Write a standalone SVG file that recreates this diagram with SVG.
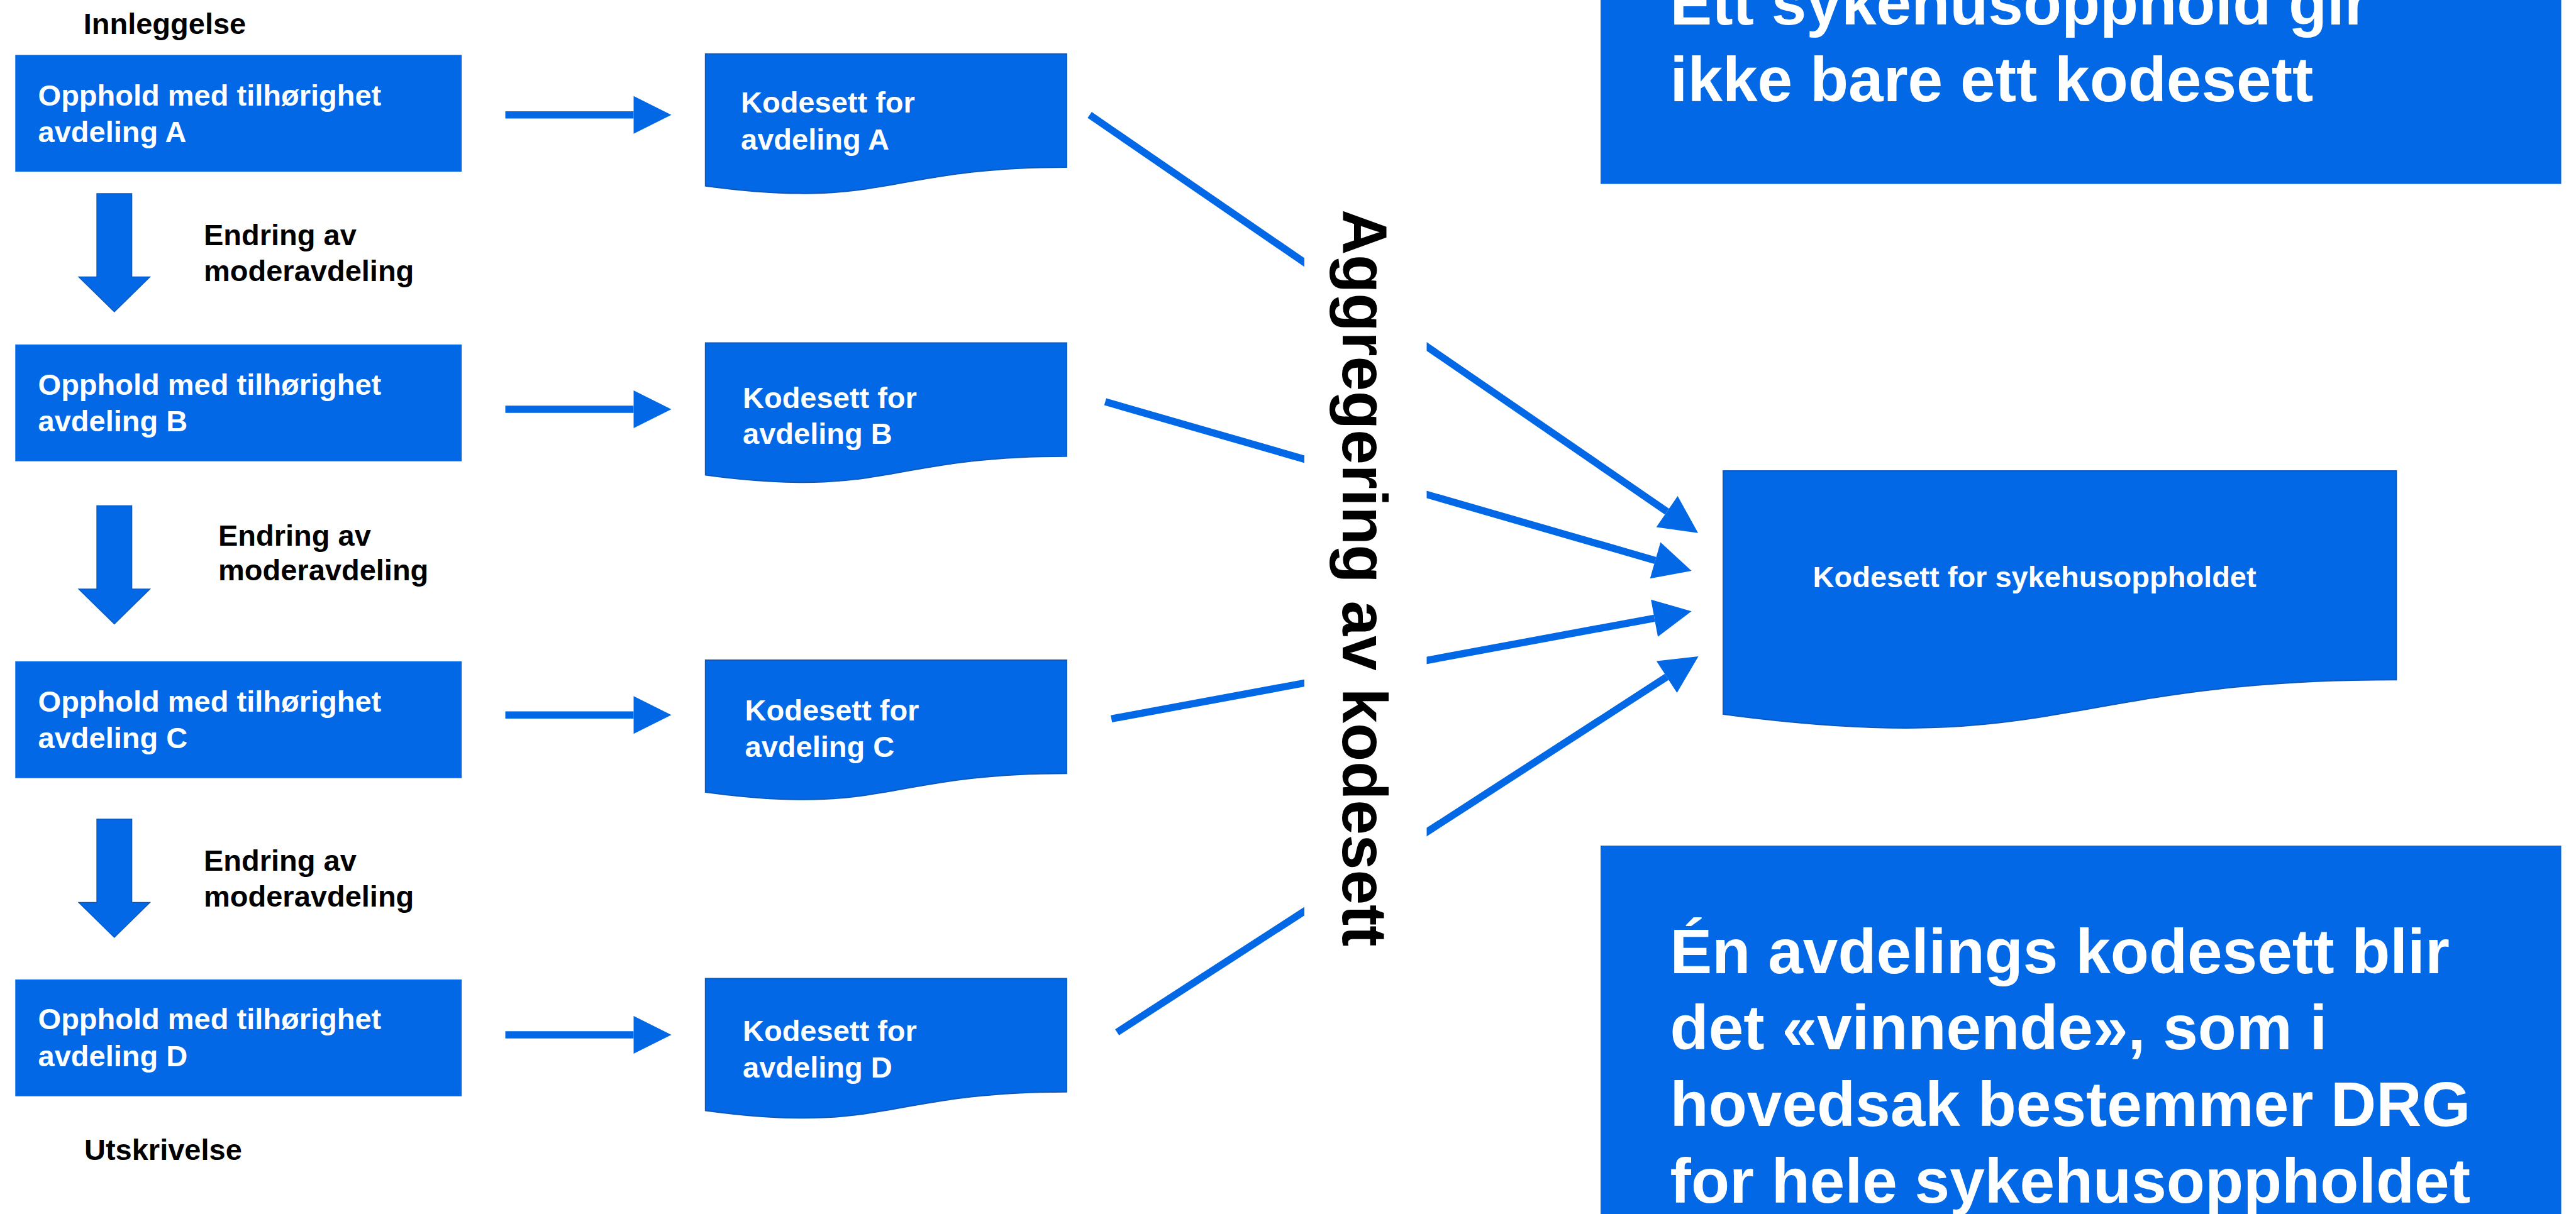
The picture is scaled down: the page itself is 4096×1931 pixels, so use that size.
<svg xmlns="http://www.w3.org/2000/svg" width="4096" height="1931" viewBox="0 0 4096 1931">
<defs>
<style>
.box{fill:#0368E6;}
.doc{fill:#0368E6;stroke:#0A58C0;stroke-width:2;}
.t{font-family:"Liberation Sans",Arial,sans-serif;font-weight:bold;font-size:47px;}
.w{fill:#FFFFFF;}
.k{fill:#000000;}
.big{font-family:"Liberation Sans",Arial,sans-serif;font-weight:bold;font-size:100px;}
.conn{stroke:#0368E6;stroke-width:11.5;fill:none;}
.darr{fill:#0368E6;stroke:#0A58C0;stroke-width:1.5;}
</style>
<marker id="ah" markerUnits="userSpaceOnUse" markerWidth="62" markerHeight="62" viewBox="0 -31 62 62" refX="0" refY="0" orient="auto" overflow="visible">
<path d="M0,-30 L60,0 L0,30 Z" fill="#0368E6"/>
</marker>
<path id="downArrow" d="M-27.75,0 H27.75 V132.5 H56.5 L0,188 L-56.5,132.5 H-27.75 Z"/>
<path id="docShape" d="M0,0 H574.1 V180.2 C287,180.2 287,248.9 0,209.9 Z"/>
</defs>
<rect width="4096" height="1931" fill="#FFFFFF"/>

<g id="connectors">
<line class="conn" x1="803.5" y1="182.8" x2="1007.5" y2="182.8" marker-end="url(#ah)"/>
<line class="conn" x1="803.5" y1="651" x2="1007.5" y2="651" marker-end="url(#ah)"/>
<line class="conn" x1="803.5" y1="1137.3" x2="1007.5" y2="1137.3" marker-end="url(#ah)"/>
<line class="conn" x1="803.5" y1="1646" x2="1007.5" y2="1646" marker-end="url(#ah)"/>
<line class="conn" x1="1732.6" y1="182.8" x2="2650.6" y2="813.7" marker-end="url(#ah)"/>
<line class="conn" x1="1757.4" y1="639" x2="2632" y2="891.4" marker-end="url(#ah)"/>
<line class="conn" x1="1767.2" y1="1143.3" x2="2630.6" y2="983.3" marker-end="url(#ah)"/>
<line class="conn" x1="1776.2" y1="1642" x2="2650.2" y2="1076.7" marker-end="url(#ah)"/>
<use href="#downArrow" class="darr" transform="translate(181.8,308)"/>
<use href="#downArrow" class="darr" transform="translate(181.8,804.5)"/>
<use href="#downArrow" class="darr" transform="translate(181.8,1303)"/>
</g>

<g id="label-innleggelse"><text class="t k" x="132.7" y="53.7">Innleggelse</text></g>
<g id="label-utskrivelse"><text class="t k" x="134" y="1844.7">Utskrivelse</text></g>

<g id="opphold-a">
<rect class="box" x="24.3" y="87.3" width="709.8" height="185.7"/>
<text class="t w" x="60.6" y="168">Opphold med tilhørighet</text>
<text class="t w" x="60.6" y="225.5">avdeling A</text>
</g>
<g id="opphold-b">
<rect class="box" x="24.3" y="548" width="709.8" height="185.7"/>
<text class="t w" x="60.6" y="628">Opphold med tilhørighet</text>
<text class="t w" x="60.6" y="685.5">avdeling B</text>
</g>
<g id="opphold-c">
<rect class="box" x="24.3" y="1052" width="709.8" height="185.7"/>
<text class="t w" x="60.6" y="1132">Opphold med tilhørighet</text>
<text class="t w" x="60.6" y="1189.5">avdeling C</text>
</g>
<g id="opphold-d">
<rect class="box" x="24.3" y="1558" width="709.8" height="185.7"/>
<text class="t w" x="60.6" y="1637">Opphold med tilhørighet</text>
<text class="t w" x="60.6" y="1695.5">avdeling D</text>
</g>

<g id="endring-1">
<text class="t k" x="324" y="390">Endring av</text>
<text class="t k" x="324" y="447">moderavdeling</text>
</g>
<g id="endring-2">
<text class="t k" x="347" y="868">Endring av</text>
<text class="t k" x="347" y="923">moderavdeling</text>
</g>
<g id="endring-3">
<text class="t k" x="324" y="1385">Endring av</text>
<text class="t k" x="324" y="1442">moderavdeling</text>
</g>

<g id="kodesett-a">
<use href="#docShape" class="doc" transform="translate(1121.8,85.8)"/>
<text class="t w" x="1178" y="179">Kodesett for</text>
<text class="t w" x="1178" y="237.5">avdeling A</text>
</g>
<g id="kodesett-b">
<use href="#docShape" class="doc" transform="translate(1121.8,545.5)"/>
<text class="t w" x="1181" y="649">Kodesett for</text>
<text class="t w" x="1181" y="706">avdeling B</text>
</g>
<g id="kodesett-c">
<use href="#docShape" class="doc" transform="translate(1121.8,1050)"/>
<text class="t w" x="1184.6" y="1145.5">Kodesett for</text>
<text class="t w" x="1184.6" y="1204">avdeling C</text>
</g>
<g id="kodesett-d">
<use href="#docShape" class="doc" transform="translate(1121.8,1556.5)"/>
<text class="t w" x="1181" y="1655.8">Kodesett for</text>
<text class="t w" x="1181" y="1713.5">avdeling D</text>
</g>

<g id="aggregering">
<rect x="2074" y="330" width="194.5" height="1190" fill="#FFFFFF"/>
<text class="big k" text-anchor="middle" transform="translate(2135,919.4) rotate(90)">Aggregering av kodesett</text>
</g>

<g id="kodesett-sykehusopphold">
<path class="doc" d="M2740,749 H3810.3 V1081.3 C3275.15,1081.3 3275.15,1207.8 2740,1136 Z"/>
<text class="t w" x="2882.6" y="934.3">Kodesett for sykehusoppholdet</text>
</g>

<g id="info-top">
<rect class="box" x="2545" y="-60" width="1527.5" height="352.6"/>
<text class="big w" x="2655.6" y="39.2">Ett sykehusopphold gir</text>
<text class="big w" x="2655.6" y="161.4">ikke bare ett kodesett</text>
</g>

<g id="info-bottom">
<rect class="box" x="2545" y="1345" width="1527.5" height="650"/>
<text class="big w" x="2655.6" y="1547.7">Én avdelings kodesett blir</text>
<text class="big w" x="2655.6" y="1669.3">det «vinnende», som i</text>
<text class="big w" x="2655.6" y="1790.5">hovedsak bestemmer DRG</text>
<text class="big w" x="2655.6" y="1912.5">for hele sykehusoppholdet</text>
</g>
</svg>
